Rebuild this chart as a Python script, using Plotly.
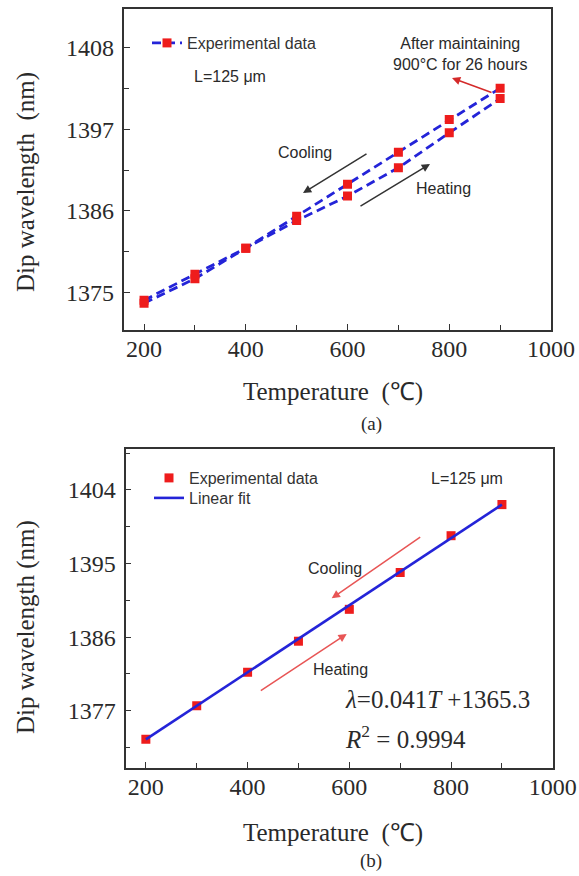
import plotly.graph_objects as go

# ---------------- data ----------------
temps = [200, 300, 400, 500, 600, 700, 800, 900]
heating_a = [1373.6, 1376.9, 1381.0, 1384.7, 1388.0, 1391.8, 1396.5, 1401.1]
cooling_a = [1374.0, 1377.5, 1381.0, 1385.3, 1389.6, 1393.9, 1398.3, 1402.5]
data_b = [1373.5, 1377.6, 1381.7, 1385.5, 1389.4, 1393.9, 1398.4, 1402.2]
fit_x = [200, 900]
fit_y = [1373.5, 1402.2]

xticks = [200, 400, 600, 800, 1000]
yticks_a = [1375, 1386, 1397, 1408]
yticks_b = [1377, 1386, 1395, 1404]

W, H = 579, 876
RED = "#ee1c1c"
BLUE = "#2424d8"
SERIF = "Liberation Serif"
SANS = "Liberation Sans"
TXT = "#2a2a2a"


def px(x):
    return x / W


def py(y):
    return 1 - y / H


fig = go.Figure()

line_a = dict(color=BLUE, width=2.8, dash="9px,5px")
mk_a = dict(symbol="square", size=9, color=RED)

fig.add_trace(go.Scatter(x=temps, y=heating_a, mode="lines+markers", line=line_a,
                         marker=mk_a, name="Experimental data", xaxis="x", yaxis="y",
                         legend="legend"))
fig.add_trace(go.Scatter(x=temps, y=cooling_a, mode="lines+markers", line=line_a,
                         marker=mk_a, showlegend=False, xaxis="x", yaxis="y"))

fig.add_trace(go.Scatter(x=temps, y=data_b, mode="markers",
                         marker=dict(symbol="square", size=9, color=RED),
                         name="Experimental data", xaxis="x2", yaxis="y2", legend="legend2"))
fig.add_trace(go.Scatter(x=fit_x, y=fit_y, mode="lines",
                         line=dict(color=BLUE, width=2.6),
                         name="Linear fit", xaxis="x2", yaxis="y2", legend="legend3"))

axis_common = dict(showline=True, linecolor="#333", linewidth=1.7, mirror=True,
                   ticks="inside", ticklen=6, tickwidth=1.3, tickcolor="#333",
                   showgrid=False, zeroline=False, automargin=False,
                   tickfont=dict(family=SERIF, size=24, color=TXT))

xax = dict(axis_common, range=[160, 1000], tickmode="array", tickvals=xticks,
           ticklabelstandoff=-4,
           minor=dict(dtick=100, tick0=0, ticks="inside", ticklen=5, tickcolor="#333"))

leg_font = dict(family=SANS, size=16, color="#333")

fig.update_layout(
    width=W, height=H,
    margin=dict(l=0, r=0, t=0, b=0),
    font=dict(family=SERIF),
    paper_bgcolor="white", plot_bgcolor="white",
    xaxis=dict(xax, domain=[px(123.7), px(551)], anchor="y"),
    yaxis=dict(axis_common, domain=[py(330), py(9.3)], range=[1370.0, 1413.1],
               tickmode="array", tickvals=yticks_a, anchor="x", ticklabelstandoff=3,
               minor=dict(dtick=5.5, tick0=1375, ticks="inside", ticklen=5, tickcolor="#333")),
    xaxis2=dict(xax, domain=[px(125.5), px(552.8)], anchor="y2"),
    yaxis2=dict(axis_common, domain=[py(768), py(449)], range=[1370.0, 1409.0],
                tickmode="array", tickvals=yticks_b, anchor="x2", ticklabelstandoff=3,
                minor=dict(dtick=4.5, tick0=1377, ticks="inside", ticklen=5, tickcolor="#333")),
    legend=dict(x=px(147), y=py(26), xanchor="left", yanchor="top",
                bgcolor="rgba(0,0,0,0)", font=leg_font),
    legend2=dict(x=px(149), y=py(461), xanchor="left", yanchor="top",
                 bgcolor="rgba(0,0,0,0)", font=leg_font),
    legend3=dict(x=px(149), y=py(481), xanchor="left", yanchor="top",
                 bgcolor="rgba(0,0,0,0)", font=leg_font),
)

ann = []


def text(x, y, s, font=SANS, size=16, xanchor="center", angle=0, align="center"):
    ann.append(dict(x=px(x), y=py(y), xref="paper", yref="paper", text=s,
                    showarrow=False, xanchor=xanchor, yanchor="middle", textangle=angle,
                    align=align, font=dict(family=font, size=size, color=TXT)))


def arrow(hx, hy, tx, ty, color):
    ann.append(dict(x=px(hx), y=py(hy), xref="paper", yref="paper", text="",
                    showarrow=True, ax=tx - hx, ay=ty - hy, arrowhead=2, arrowsize=1.1,
                    arrowwidth=1.5, arrowcolor=color, standoff=0, startstandoff=0))


# panel (a)
text(192, 77, "L=125 μm", xanchor="left")
text(460, 54, "After maintaining<br>900°C for 26 hours")
text(305, 152, "Cooling")
text(443, 188, "Heating")
arrow(452, 78, 493, 93, "#d42a2a")
arrow(303, 193, 368, 153, "#333")
arrow(430, 164, 359, 207, "#333")
text(26, 182, "Dip wavelength \u00a0(nm)", font=SERIF, size=25, angle=-90)
text(333, 392, "Temperature \u00a0(℃)", font=SERIF, size=25)
text(371, 424, "(a)", font=SERIF, size=19)

# panel (b)
text(467, 478, "L=125 μm")
text(335, 568, "Cooling")
text(340, 669, "Heating")
arrow(331.7, 598.3, 421.7, 536, "#e85555")
arrow(346.7, 634, 259.3, 691.7, "#e85555")
text(343, 699, "<i>λ</i>=0.041<i>T</i> +1365.3", font=SERIF, size=25, xanchor="left")
text(343, 737, "<i>R</i><sup>2</sup> = 0.9994", font=SERIF, size=25, xanchor="left")
text(26, 627, "Dip wavelength (nm)", font=SERIF, size=25, angle=-90)
text(333, 833, "Temperature \u00a0(℃)", font=SERIF, size=25)
text(371, 861, "(b)", font=SERIF, size=19)

fig.update_layout(annotations=ann)
fig.write_html("out.html", config={"displayModeBar": False},
               post_script="document.body.style.margin='0';")
